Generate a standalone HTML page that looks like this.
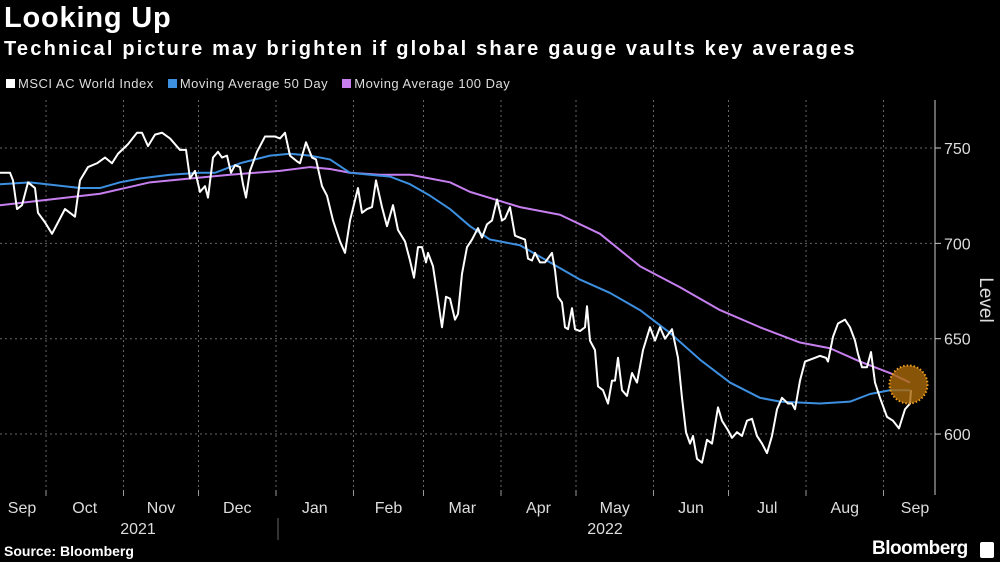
<!DOCTYPE html>
<html><head><meta charset="utf-8"><style>
body{margin:0;background:#000;width:1000px;height:562px;overflow:hidden;font-family:"Liberation Sans",sans-serif;color:#fff;position:relative}
.t{position:absolute;white-space:nowrap}
</style></head><body>
<div class="t" style="left:4px;top:2px;font-size:29px;font-weight:bold;letter-spacing:0.8px">Looking Up</div>
<div class="t" style="left:4px;top:38px;font-size:20px;font-weight:bold;letter-spacing:2.2px">Technical picture may brighten if global share gauge vaults key averages</div>
<div class="t" style="left:6px;top:76px;font-size:13px;color:#ddd;letter-spacing:0.5px">
<span><span style="display:inline-block;width:9px;height:9px;background:#fff;margin-right:3px"></span>MSCI AC World Index</span>
<span style="margin-left:10px"><span style="display:inline-block;width:9px;height:9px;background:#3d8fe0;margin-right:3px"></span>Moving Average 50 Day</span>
<span style="margin-left:10px"><span style="display:inline-block;width:9px;height:9px;background:#c77ff0;margin-right:3px"></span>Moving Average 100 Day</span>
</div>
<svg id="c" width="1000" height="562" style="position:absolute;left:0;top:0"></svg>
<div class="t" style="left:4px;top:543px;font-size:14px;font-weight:bold">Source: Bloomberg</div>
<div class="t" style="left:872px;top:538px;font-size:19px;font-weight:bold;letter-spacing:-0.5px">Bloomberg</div>
<div class="t" style="left:980px;top:542px;width:14px;height:16px;background:#fff;border-radius:2px"></div>
<script>
const msciDays=[11.6,15.6,16.8,18.4,20.4,22.8,25.6,26.8,29.6,32.4,34.8,37.6,41.6,43.6,46.8,50.4,53.6,56.4,58.8,62.8,66.4,68.4,70.8,73.6,76.4,79.6,83.6,86,87.6,89.6,91.6,93.6,94.8,96.8,98.8,100.4,102.4,104,105.6,107.6,108.8,110,111.6,114.4,117.6,121.6,123.6,125.6,127.6,130.4,131.6,134,136.4,138,140.4,142.4,144.8,147.6,149.6,151.6,154.8,156.4,158.4,160.4,162,164.4,166.4,168.8,170.8,173.6,175.6,177.2,178.8,180.4,182,182.8,184.8,186.4,187.6,188.4,190,191.6,193.6,194.8,196.4,198.4,200.4,202.8,204.4,206.4,208.4,210.4,212.4,213.6,215.6,217.6,219.6,221.6,222.8,224.4,225.6,227.6,229.6,232.4,233.6,234.8,236.4,237.6,238.8,240.4,241.6,243.6,245.6,246.4,247.6,249.6,250.8,252.8,254.8,256.4,257.6,258.8,260.4,262.4,264.4,266.4,268.8,271.6,273.6,275.6,277.6,280.4,282.8,284.4,286,287.6,288.8,290.4,292.4,294.4,296.4,298.8,300.4,302.8,304.4,306.4,308.4,310.4,312.4,314.4,316.4,318.4,320.4,322.4,324.4,326.8,328.4,329.6,331.6,333.6,335.6,337.6,339.6,342,342.8,344.8,346.8,349.6,351.6,353.6,354.8,356.4,358.4,360,361.6,363.6,366.4,368.8,371.2,373.6,375.6,376];
const msciVals=[737,737,733,718,720,732,729,716,711,705,711,718,714,733,740,742,745,742,747,752,758,758,751,757,758,755,749,749,734,738,727,730,724,745,748,745,746,737,741,740,731,724,738,748,756,756,755,758,746,743,742,753,745,744,730,725,712,701,695,712,729,716,718,719,733,719,709,720,707,701,691,682,698,698,690,695,688,674,663,656,672,671,660,663,684,698,702,708,703,710,712,723,712,713,719,704,703,702,692,691,695,690,690,695,686,672,669,656,655,666,655,654,656,667,649,644,625,623,616,628,628,640,623,620,632,627,644,656,649,656,650,655,640,619,601,595,599,587,585,597,595,614,607,602,598,601,599,607,608,599,595,590,599,613,619,616,616,613,628,638,639,640,641,640,638,651,658,660,656,649,642,635,635,643,627,619,609,607,603,613,616,623];
const ma50Days=[11.6,23.6,43.6,51.6,59.6,67.6,79.6,91.6,97.6,107.6,119.6,127.6,135.6,143.6,151.6,159.6,167.6,175.6,183.6,191.6,199.6,207.6,219.6,231.6,243.6,255.6,267.6,279.6,291.6,303.6,315.6,323.6,339.6,351.6,359.6,367.6,375.6];
const ma50Vals=[731,732,729,729,732,734,736,737,737,742,746,747,746,744,737,736,735,731,725,718,709,702,699,690,681,674,665,653,639,627,619,617,616,617,621,623,623];
const ma100Days=[11.6,31.6,51.6,71.6,87.6,103.6,123.6,135.6,143.6,151.6,163.6,175.6,183.6,191.6,199.6,219.6,235.6,251.6,267.6,283.6,299.6,315.6,331.6,343.6,355.6,367.6,375.6];
const ma100Vals=[720,723,726,732,734,736,738,740,739,737,736,736,734,732,727,719,715,705,688,677,665,656,648,645,638,632,627];
const yTicks=[600,650,700,750];
const monthLabels=["Sep","Oct","Nov","Dec","Jan","Feb","Mar","Apr","May","Jun","Jul","Aug","Sep"];
const monthStarts=[0,30,61,91,122,153,181,212,242,273,303,334,365];
const monthEnds=[30,61,91,122,153,181,212,242,273,303,334,365,395];
const svg=document.getElementById('c');
const NS='http://www.w3.org/2000/svg';
const X=d=>-29+2.5*d;
const Y=v=>148+(750-v)*1.907;
function mk(t,a){const e=document.createElementNS(NS,t);for(const k in a)e.setAttribute(k,a[k]);svg.appendChild(e);return e;}
yTicks.forEach(v=>{
 const g=mk('line',{x1:0,x2:935,y1:Y(v),y2:Y(v),stroke:'#666','stroke-dasharray':'2,3'});
 
 
 const tk=mk('line',{x1:935,x2:941,y1:Y(v),y2:Y(v),stroke:'#ccc'});
 
 
 const t=mk('text',{x:944,y:Y(v)+6,fill:'#ddd','font-size':16});t.textContent=v;
 
 
});
monthStarts.forEach((d,i)=>{
 if(i>0&&X(d)<935){const g=mk('line',{x1:X(d),x2:X(d),y1:100,y2:490,stroke:'#666','stroke-dasharray':'2,3'});
 
 
 const tk=mk('line',{x1:X(d),x2:X(d),y1:490,y2:496,stroke:'#999'});
 
 }
 let cx=(Math.max(X(d),0)+Math.min(X(monthEnds[i]),935))/2;
 if(i==0)cx=22; if(i==12)cx=915;
 const t=mk('text',{x:cx,y:513,fill:'#ddd','font-size':16,'text-anchor':'middle'});t.textContent=monthLabels[i];
 
 
});
const ax=mk('line',{x1:935,x2:935,y1:100,y2:495,stroke:'#ccc'});


[["2021",138],["2022",605]].forEach(p=>{const t=mk('text',{x:p[1],y:534,fill:'#ddd','font-size':16,'text-anchor':'middle'});t.textContent=p[0];
 
 });
const sep=mk('line',{x1:278,x2:278,y1:518,y2:540,stroke:'#666'});


const yl=mk('text',{x:980,y:300,fill:'#ddd','font-size':19,'text-anchor':'middle',transform:'rotate(90 980 300)'});yl.textContent='Level';


function line(ds,vs,col,w,name){const p=mk('polyline',{points:ds.map((d,i)=>X(d)+','+Y(vs[i])).join(' '),fill:'none',stroke:col,'stroke-width':w,'stroke-linejoin':'round'});
 
 }
line(ma100Days,ma100Vals,'#c77ff0',2,'ma100-line');
line(ma50Days,ma50Vals,'#3d8fe0',2,'ma50-line');
line(msciDays,msciVals,'#fff',2,'msci-line');
const ci=mk('circle',{cx:X(375),cy:Y(626),r:19,fill:'rgba(170,105,10,0.8)',stroke:'#f0a020','stroke-width':2,'stroke-dasharray':'1.5,2'});


</script>
</body></html>
